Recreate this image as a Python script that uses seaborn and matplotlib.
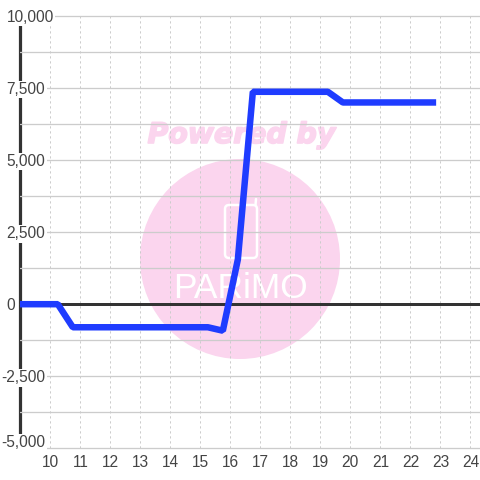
import matplotlib
matplotlib.use('Agg')
import matplotlib.pyplot as plt
import matplotlib.patheffects as pe
from matplotlib.patches import Circle, FancyBboxPatch
from matplotlib.ticker import FixedLocator
from matplotlib.transforms import IdentityTransform, ScaledTranslation
import pandas as pd
import seaborn as sns

# values
hours = [9, 10.25, 10.75, 15.25, 15.75, 16.25, 16.75, 19.25, 19.75, 22.75]
values = [0, 0, -800, -800, -920, 1550, 7370, 7370, 7000, 7000]
x_ticks = list(range(10, 25))
y_ticks = [-5000, -2500, 0, 2500, 5000, 7500, 10000]
y_minor = [-3750, -1250, 1250, 3750, 6250, 8750]
y_labels = ['-5,000', '-2,500', '0', '2,500', '5,000', '7,500', '10,000']

sns.set_theme(style='white')
plt.rcParams['font.family'] = ['Liberation Sans', 'DejaVu Sans']

grid_col = '#cccccc'
dark = '#333333'
text_col = '#444444'
pink = '#fbd5ee'
px = 72 / 100  # points per pixel

fig = plt.figure(figsize=(4.8, 4.8), dpi=100, facecolor='white')
ax = fig.add_axes([20.3 / 480, 31.7 / 480, 459.7 / 480, 432.3 / 480])
ax.set_xlim(9, 24.32)
ax.set_ylim(-5000, 10000)
ax.set_axisbelow('line')

# watermark, sits under the grid
ident = IdentityTransform()
ax.add_patch(Circle((240, 221), 100, transform=ident, color=pink, lw=0, zorder=0.5))
ax.text(241.5, 345, 'Powered by', transform=ident, color=pink, ha='center', va='center',
        fontsize=20.4, fontweight='bold', fontstyle='italic', family='DejaVu Sans', zorder=0.5,
        path_effects=[pe.withStroke(linewidth=1.2, foreground=pink)])
ax.add_patch(FancyBboxPatch((225, 222), 32, 53, boxstyle='round,pad=0,rounding_size=4',
                            transform=ident, fc='none', ec='white', lw=2.5 * px, zorder=0.6))
ax.plot([255.5, 256], [275, 281], transform=ident, color='white', lw=2.5 * px, zorder=0.6)
ax.text(240, 192, 'PARiMO', transform=ident, color='white', ha='center', va='center',
        fontsize=25.5, zorder=0.6)

df = pd.DataFrame({'hour': hours, 'value': values})
ax.axhline(0, color=dark, lw=3 * px, zorder=1.8)
sns.lineplot(data=df, x='hour', y='value', ax=ax, color='#1f3cff', lw=6.5 * px, sort=False,
             solid_capstyle='projecting', solid_joinstyle='bevel', zorder=2)

ax.set_xlabel('')
ax.set_ylabel('')
ax.set_xticks(x_ticks)
ax.set_yticks(y_ticks)
ax.set_yticklabels(y_labels)
ax.yaxis.set_minor_locator(FixedLocator(y_minor))
ax.tick_params(axis='both', which='both', length=0)
ax.tick_params(axis='x', labelsize=11.2, labelcolor=text_col, pad=4.5)
ax.tick_params(axis='y', labelsize=11.2, labelcolor=text_col, pad=9.8)
ax.grid(axis='x', color=grid_col, lw=1 * px, ls=(0, (2.2, 2.8)))
ax.grid(axis='y', which='both', color=grid_col, lw=1.3 * px, ls='-')
for line in ax.get_ygridlines():
    line.set_clip_on(False)

for s in ['top', 'right', 'bottom']:
    ax.spines[s].set_visible(False)
ax.spines['left'].set_color(dark)
ax.spines['left'].set_linewidth(3.2 * px)
ax.spines['left'].set_zorder(1)

# labels sit inside the plot on white boxes that cut the axis line
shift = ScaledTranslation(-5 / 100, 0, fig.dpi_scale_trans)
shift_low = ScaledTranslation(-5 / 100, -2 / 100, fig.dpi_scale_trans)
for lab in ax.get_yticklabels():
    lab.set_horizontalalignment('left')
    lab.set_bbox(dict(facecolor='white', edgecolor='none', pad=1))
    if lab.get_text() == '-5,000':
        lab.set_verticalalignment('bottom')
        lab.set_transform(lab.get_transform() + shift_low)
    elif lab.get_text().startswith('-'):
        lab.set_transform(lab.get_transform() + shift)

fig.savefig('out.png', dpi=100)
